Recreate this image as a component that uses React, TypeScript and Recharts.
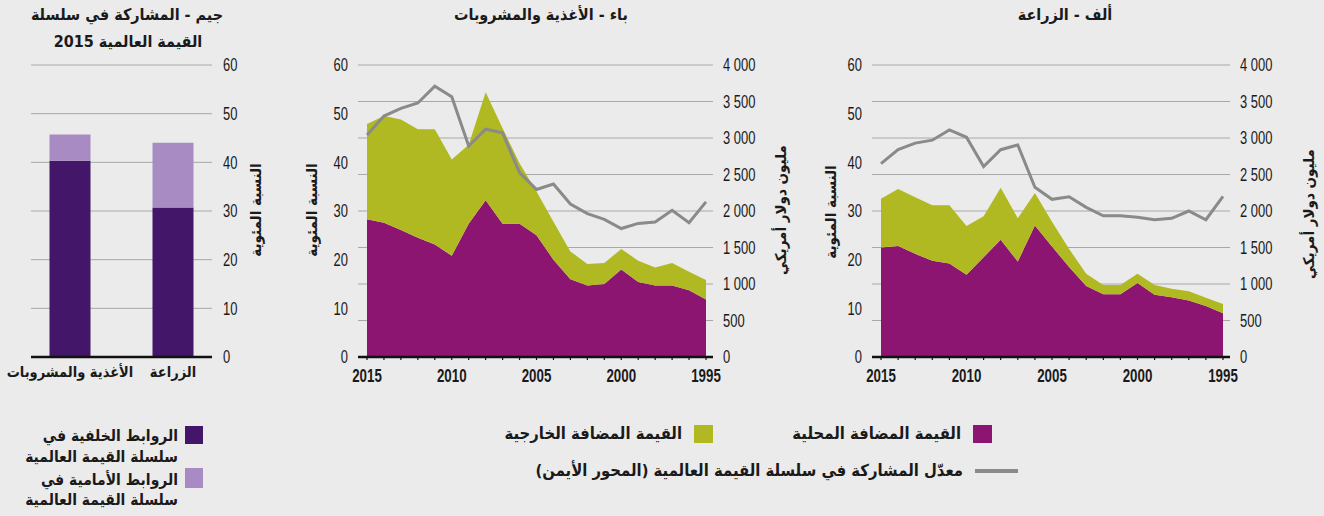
import React from 'react';
import {
  ComposedChart,
  Area,
  Line,
  BarChart,
  Bar,
  XAxis,
  YAxis,
  CartesianGrid,
} from 'recharts';

// Years run from 2015 (left) to 1995 (right)
const YEARS = [2015, 2014, 2013, 2012, 2011, 2010, 2009, 2008, 2007, 2006, 2005, 2004, 2003, 2002, 2001, 2000, 1999, 1998, 1997, 1996, 1995];
const PCT_TICKS = [0, 10, 20, 30, 40, 50, 60];
const USD_TICKS = [0, 500, 1000, 1500, 2000, 2500, 3000, 3500, 4000];

// Panel A - agriculture
const AGRI_DOMESTIC = [22.5, 22.8, 21.2, 19.8, 19.2, 16.9, 20.5, 24.1, 19.6, 27.0, 22.7, 18.5, 14.6, 12.9, 12.9, 15.2, 12.8, 12.3, 11.6, 10.5, 9.0];
const AGRI_FOREIGN = [10.0, 11.7, 11.6, 11.4, 12.0, 10.0, 8.4, 10.7, 8.9, 6.7, 5.1, 3.7, 2.5, 1.9, 1.9, 1.9, 2.0, 1.7, 1.9, 1.7, 1.9];
const AGRI_GVC = [2650, 2840, 2930, 2970, 3110, 3010, 2610, 2840, 2905, 2325, 2160, 2195, 2050, 1935, 1935, 1915, 1880, 1900, 2000, 1880, 2200];

// Panel B - food and beverages
const FOOD_DOMESTIC = [28.3, 27.6, 26.1, 24.5, 23.1, 20.8, 27.4, 32.2, 27.4, 27.4, 25.0, 20.0, 16.0, 14.7, 15.0, 18.0, 15.4, 14.7, 14.7, 13.7, 11.8];
const FOOD_FOREIGN = [19.6, 21.9, 22.7, 22.3, 23.7, 19.8, 16.2, 22.2, 19.6, 12.4, 9.0, 7.8, 5.7, 4.4, 4.3, 4.2, 4.4, 3.7, 4.6, 3.8, 4.0];
const FOOD_GVC = [3040, 3300, 3405, 3480, 3710, 3565, 2890, 3120, 3070, 2525, 2295, 2370, 2095, 1965, 1885, 1760, 1830, 1850, 2010, 1840, 2125];

// Panel C - GVC participation 2015
const SECTORS = ['الأغذية والمشروبات', 'الزراعة'];
const BACKWARD = [40.3, 30.7];
const FORWARD = [5.4, 13.3];

const C_DOMESTIC = '#8c1572';
const C_FOREIGN = '#b0b822';
const C_LINE = '#8a8a8a';
const C_BACK = '#431669';
const C_FWD = '#a98bc3';
const GRID = '#a8a8a8';
const BG = '#ebebeb';

const NUM_FONT = "'Liberation Sans', Arial, sans-serif";
const AR_FONT = "'DejaVu Sans Condensed', 'DejaVu Sans', sans-serif";

const fmtUsd = (v: number) =>
  v >= 1000 ? `${Math.floor(v / 1000)} ${String(v % 1000).padStart(3, '0')}` : String(v);

const buildSeries = (domestic: number[], foreign: number[], gvc: number[]) =>
  YEARS.map((year, i) => ({ year, domestic: domestic[i], foreign: foreign[i], gvc: gvc[i] }));

const agriData = buildSeries(AGRI_DOMESTIC, AGRI_FOREIGN, AGRI_GVC);
const foodData = buildSeries(FOOD_DOMESTIC, FOOD_FOREIGN, FOOD_GVC);
const barData = SECTORS.map((sector, i) => ({ sector, backward: BACKWARD[i], forward: FORWARD[i] }));

// condensed numeric tick (the original uses a narrow face)
const NumTick = (props: any) => {
  const { x, y, payload, textAnchor, fmt } = props;
  const label = fmt ? fmt(payload.value) : String(payload.value);
  return (
    <g transform={`translate(${x},${y}) scale(0.74,1)`}>
      <text textAnchor={textAnchor} dy="0.36em" fontSize={17.5} fill="#1a1a1a" fontFamily={NUM_FONT}>
        {label}
      </text>
    </g>
  );
};

// every year gets a tick mark, only every fifth year a label
const YearTick = (props: any) => {
  const { x, y, payload } = props;
  if (payload.value % 5 !== 0) return <g />;
  return (
    <g transform={`translate(${x},${y}) scale(0.74,1)`}>
      <text textAnchor="middle" dy={20} fontSize={18} fontWeight="bold" fill="#1a1a1a" fontFamily={NUM_FONT}>
        {payload.value}
      </text>
    </g>
  );
};

// Plain HTML label, centred (or anchored) on x/y
const Txt: React.FC<{
  x: number;
  y: number;
  size?: number;
  anchor?: 'start' | 'middle' | 'end';
  rotate?: number;
  children: React.ReactNode;
}> = ({ x, y, size = 15, anchor = 'middle', rotate = 0, children }) => {
  const tx = anchor === 'middle' ? '-50%' : anchor === 'end' ? '-100%' : '0';
  return (
    <div
      style={{
        position: 'absolute',
        left: x,
        top: y,
        transform: `translate(${tx}, -50%) rotate(${rotate}deg)`,
        fontFamily: AR_FONT,
        fontWeight: 'bold',
        fontSize: size,
        lineHeight: 1.1,
        whiteSpace: 'nowrap',
        direction: 'rtl',
        color: '#1a1a1a',
      }}
    >
      {children}
    </div>
  );
};

const Swatch: React.FC<{ x: number; y: number; w: number; h: number; color: string }> = ({ x, y, w, h, color }) => (
  <div style={{ position: 'absolute', left: x, top: y, width: w, height: h, background: color }} />
);

const TrendChart: React.FC<{ data: any[]; left: number; yWidth: number; rWidth: number; width: number }> = ({
  data,
  left,
  yWidth,
  rWidth,
  width,
}) => (
  <div style={{ position: 'absolute', left, top: 0 }}>
    <ComposedChart width={width} height={400} data={data} margin={{ top: 65, right: 0, bottom: 13, left: 0 }}>
      <CartesianGrid yAxisId="usd" vertical={false} stroke={GRID} strokeWidth={1} />
      <XAxis
        dataKey="year"
        type="number"
        domain={[1995, 2015]}
        reversed
        ticks={YEARS}
        interval={0}
        padding={{ left: 9, right: 7 }}
        height={30}
        tickSize={3}
        tickLine={{ stroke: '#111', strokeWidth: 1.2 }}
        axisLine={{ stroke: '#111', strokeWidth: 2.5 }}
        tick={<YearTick />}
        tickMargin={2}
      />
      <YAxis
        yAxisId="pct"
        domain={[0, 60]}
        ticks={PCT_TICKS}
        width={yWidth}
        tickLine={false}
        axisLine={false}
        tick={<NumTick />}
        tickMargin={4}
      />
      <YAxis
        yAxisId="usd"
        orientation="right"
        domain={[0, 4000]}
        ticks={USD_TICKS}
        width={rWidth}
        tickLine={false}
        axisLine={false}
        tick={<NumTick fmt={fmtUsd} />}
        tickMargin={4}
      />
      <Area
        yAxisId="pct"
        type="linear"
        dataKey="domestic"
        stackId="va"
        stroke="none"
        fill={C_DOMESTIC}
        fillOpacity={1}
        isAnimationActive={false}
      />
      <Area
        yAxisId="pct"
        type="linear"
        dataKey="foreign"
        stackId="va"
        stroke="none"
        fill={C_FOREIGN}
        fillOpacity={1}
        isAnimationActive={false}
      />
      <Line
        yAxisId="usd"
        type="linear"
        dataKey="gvc"
        stroke={C_LINE}
        strokeWidth={3}
        dot={false}
        isAnimationActive={false}
      />
    </ComposedChart>
  </div>
);

export default function App() {
  return (
    <div
      style={{
        position: 'absolute',
        left: 0,
        top: 0,
        width: 1324,
        height: 516,
        background: BG,
        overflow: 'hidden',
      }}
    >
      {/* Panel C - stacked bars */}
      <div style={{ position: 'absolute', left: 0, top: 0 }}>
        <BarChart width={280} height={400} data={barData} margin={{ top: 65, right: 0, bottom: 13, left: 31 }}>
          <CartesianGrid vertical={false} stroke={GRID} strokeWidth={1} />
          <XAxis
            dataKey="sector"
            padding={{ left: -12.5, right: -12.5 }}
            height={30}
            tickLine={false}
            axisLine={{ stroke: '#111', strokeWidth: 2.5 }}
            tick={{ fontSize: 14.5, fill: '#1a1a1a', fontFamily: AR_FONT, fontWeight: 'bold' }}
            tickMargin={4}
            interval={0}
          />
          <YAxis
            orientation="right"
            domain={[0, 60]}
            ticks={PCT_TICKS}
            width={68}
            tickLine={false}
            axisLine={false}
            tick={<NumTick />}
            tickMargin={5}
          />
          <Bar dataKey="backward" stackId="gvc" fill={C_BACK} barSize={41} isAnimationActive={false} />
          <Bar dataKey="forward" stackId="gvc" fill={C_FWD} barSize={41} isAnimationActive={false} />
        </BarChart>
      </div>

      {/* Panel B - food and beverages */}
      <TrendChart data={foodData} left={290} yWidth={68} rWidth={87} width={510} />
      {/* Panel A - agriculture */}
      <TrendChart data={agriData} left={810} yWidth={62} rWidth={90} width={510} />

      {/* titles */}
      <Txt x={127} y={15} size={16}>جيم - المشاركة في سلسلة</Txt>
      <Txt x={128} y={42} size={16}>القيمة العالمية 2015</Txt>
      <Txt x={541} y={15} size={16}>باء - الأغذية والمشروبات</Txt>
      <Txt x={1065} y={15} size={16}>ألف - الزراعة</Txt>

      {/* axis titles */}
      <Txt x={256} y={210} rotate={-90}>النسبة المئوية</Txt>
      <Txt x={312} y={210} rotate={-90}>النسبة المئوية</Txt>
      <Txt x={781} y={210} rotate={-90}>مليون دولار أمريكي</Txt>
      <Txt x={831} y={212} rotate={-90}>النسبة المئوية</Txt>
      <Txt x={1309} y={214} rotate={-90}>مليون دولار أمريكي</Txt>

      {/* legend for panels A and B */}
      <Swatch x={973} y={425} w={19} h={18} color={C_DOMESTIC} />
      <Txt x={961} y={434} anchor="end" size={16.5}>القيمة المضافة المحلية</Txt>
      <Swatch x={694} y={425} w={19} h={18} color={C_FOREIGN} />
      <Txt x={682} y={434} anchor="end" size={16.5}>القيمة المضافة الخارجية</Txt>
      <Swatch x={975} y={469} w={43} h={4} color={C_LINE} />
      <Txt x={963} y={471} anchor="end" size={16.5}>معدّل المشاركة في سلسلة القيمة العالمية (المحور الأيمن)</Txt>

      {/* legend for panel C */}
      <Swatch x={185} y={426} w={18} h={18} color={C_BACK} />
      <Txt x={178} y={437} anchor="end" size={15.5}>الروابط الخلفية في</Txt>
      <Txt x={178} y={458} anchor="end" size={15.5}>سلسلة القيمة العالمية</Txt>
      <Swatch x={185} y={468} w={18} h={20} color={C_FWD} />
      <Txt x={178} y={481} anchor="end" size={15.5}>الروابط الأمامية في</Txt>
      <Txt x={178} y={501} anchor="end" size={15.5}>سلسلة القيمة العالمية</Txt>
    </div>
  );
}
